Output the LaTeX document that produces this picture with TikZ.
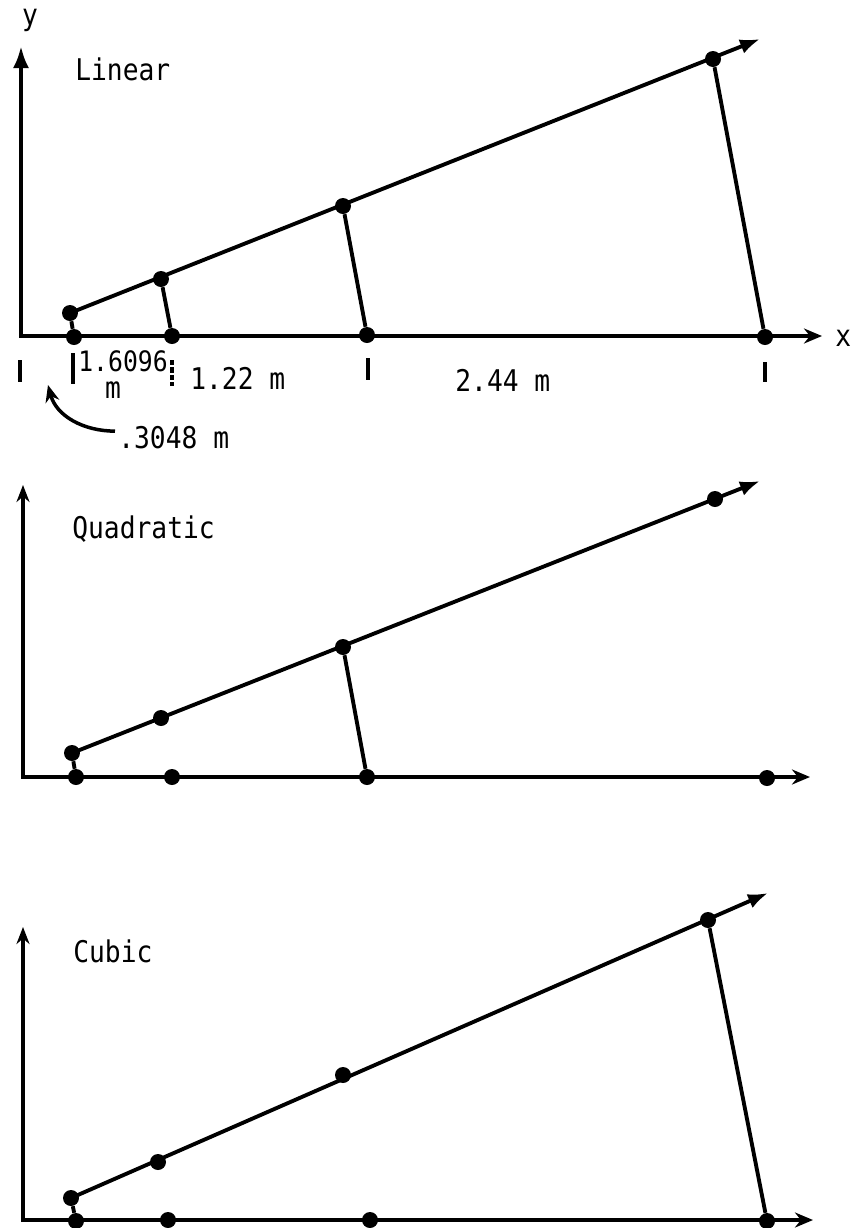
\documentclass[tikz,border=0pt]{standalone}
\usepackage{fontspec}
\setmainfont[FakeStretch=0.88]{DejaVu Sans Mono}
\usetikzlibrary{arrows.meta}

\begin{document}
\begin{tikzpicture}[
  x=0.02cm, y=-0.02cm,
  every node/.style={font=\fontsize{17}{20}\selectfont},
  pointdot/.style={
    circle,
    fill=black,
    inner sep=0pt,
    minimum size=0.32cm
  },
  axis/.style={
    line width=2.3pt,
    draw=black
  },
  ray/.style={
    -{Latex[length=4mm,width=3mm]},
    line width=2.2pt,
    draw=black
  },
  link/.style={line width=2.2pt,draw=black},
  tick/.style={line width=2.2pt,draw=black},
  marker/.style={
    -{Stealth[length=3.4mm,width=2.8mm]},
    line width=2pt,
    draw=black
  },
  length/.style={anchor=base west,inner sep=0pt}
]
\useasboundingbox (0,0) rectangle (852,1228);

% Linear panel
\coordinate (ytipA) at (21,46);
\coordinate (xtipA) at (822,336);
\draw[axis,{Latex[length=4.4mm,width=3.2mm]}-{Stealth[length=3.6mm,width=3mm]}]
  (ytipA) |- (xtipA);
\node (ylabel) at (30,20) {y};
\node (xlabel) [anchor=base west,inner xsep=0pt] at (835,346) {x};
\node (linear) [anchor=base west,inner xsep=0pt] at (75,80) {Linear};

\coordinate (raytipA) at (760,39);
\node[pointdot] (uA1) at (70,313) {};
\node[pointdot] (uA2) at (161,279) {};
\node[pointdot] (uA3) at (343,206) {};
\node[pointdot] (uA4) at (713,59) {};
\node[pointdot] (bA1) at (74,337) {};
\node[pointdot] (bA2) at (172,336) {};
\node[pointdot] (bA3) at (367,335) {};
\node[pointdot] (bA4) at (765,337) {};
\draw[ray] (uA1.center) -- (raytipA);
\draw[link] (uA1) -- (bA1);
\draw[link] (uA2) -- (bA2);
\draw[link] (uA3) -- (bA3);
\draw[link] (uA4) -- (bA4);

% Spacing ticks and lengths
\coordinate (t0a) at (20,360);  \coordinate (t0b) at (20,382);
\coordinate (t1a) at (73,353);  \coordinate (t1b) at (73,384);
\coordinate (t2a) at (172,360); \coordinate (t2b) at (172,386);
\coordinate (t3a) at (368,358); \coordinate (t3b) at (368,380);
\coordinate (t4a) at (765,362); \coordinate (t4b) at (765,382);
\draw[tick] (t0a) -- (t0b);
\draw[tick] (t1a) -- (t1b);
\draw[tick,dash pattern=on 3pt off 1.2pt] (t2a) -- (t2b);
\draw[tick] (t3a) -- (t3b);
\draw[tick] (t4a) -- (t4b);
\node (lenA) [length,font=\fontsize{16}{18}\selectfont] at (78,371) {1.6096};
\node (lenAm) [length,anchor=base] at (113,398) {m};
\node (lenB) [length] at (190,389) {1.22 m};
\node (lenC) [length] at (455,391) {2.44 m};
\node (lenD) [length] at (118,448) {.3048 m};
\coordinate (lenDtip) at (48,385);
\draw[marker] (lenD.west) ++(-3,-6) to[out=180,in=-75] (lenDtip);

% Quadratic panel
\coordinate (ytipB) at (23,485);
\coordinate (xtipB) at (810,777);
\draw[axis,{Stealth[length=3.4mm,width=2.6mm]}-{Stealth[length=3.6mm,width=3mm]}]
  (ytipB) |- (xtipB);
\node (quadratic) [anchor=base west,inner xsep=0pt] at (72,538) {Quadratic};

\coordinate (raytipB) at (760,481);
\node[pointdot] (uB1) at (72,753) {};
\node[pointdot] (uB2) at (161,718) {};
\node[pointdot] (uB3) at (343,647) {};
\node[pointdot] (uB4) at (715,499) {};
\node[pointdot] (bB1) at (76,777) {};
\node[pointdot] (bB2) at (172,777) {};
\node[pointdot] (bB3) at (367,777) {};
\node[pointdot] (bB4) at (767,778) {};
\draw[ray] (uB1.center) -- (raytipB);
\draw[link] (uB1) -- (bB1);
\draw[link] (uB3) -- (bB3);

% Cubic panel
\coordinate (ytipC) at (23,927);
\coordinate (xtipC) at (813,1220);
\draw[axis,{Stealth[length=3.4mm,width=2.6mm]}-{Stealth[length=3.6mm,width=3mm]}]
  (ytipC) |- (xtipC);
\node (cubic) [anchor=base west,inner xsep=0pt] at (73,962) {Cubic};

\coordinate (raytipC) at (768,893);
\node[pointdot] (uC1) at (71,1198) {};
\node[pointdot] (uC2) at (158,1162) {};
\node[pointdot] (uC3) at (343,1075) {};
\node[pointdot] (uC4) at (708,920) {};
\node[pointdot] (bC1) at (76,1221) {};
\node[pointdot] (bC2) at (168,1220) {};
\node[pointdot] (bC3) at (370,1220) {};
\node[pointdot] (bC4) at (767,1221) {};
\draw[ray] (uC1.center) -- (raytipC);
\draw[link] (uC1) -- (bC1);
\draw[link] (uC4) -- (bC4);
\end{tikzpicture}
\end{document}
